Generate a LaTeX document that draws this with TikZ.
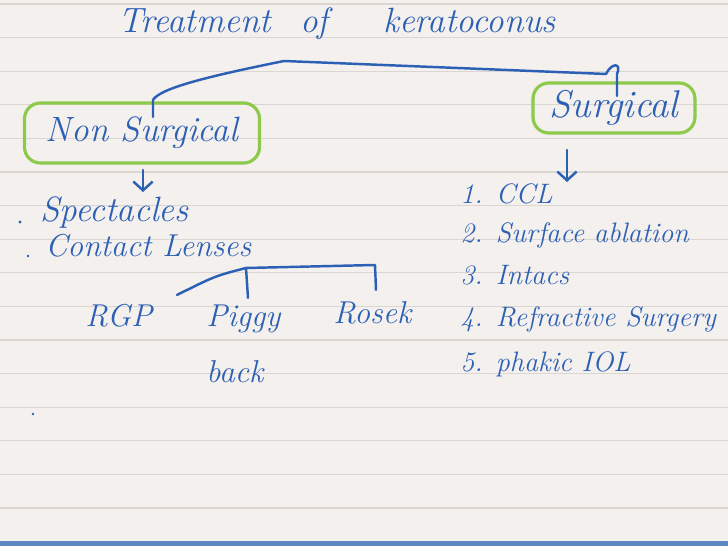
\documentclass[tikz,border=0pt]{standalone}
\usetikzlibrary{arrows.meta,positioning}
\definecolor{paper}{HTML}{F4F0EE}
\definecolor{ruling}{HTML}{DCD6D3}
\definecolor{pen}{HTML}{2C60B4}
\definecolor{marker}{HTML}{8DC94A}
\definecolor{slideblue}{HTML}{5B87C2}
\tikzset{>={Straight Barb[length=5pt,width=11pt]},
  hand/.style={text=pen,font=\fontsize{18}{20}\selectfont\itshape,inner sep=0pt},
  big hand/.style={hand,font=\fontsize{20}{22}\selectfont\itshape},
  list hand/.style={hand,font=\fontsize{16}{18}\selectfont\itshape,anchor=base west},
  wire/.style={draw=pen,line width=1.4pt,line cap=round,line join=round},
  greenbox/.style={draw=marker,line width=1.8pt,rounded corners=9pt}}

\begin{document}
\begin{tikzpicture}[x=0.02cm,y=0.02cm]

  \fill[paper] (0,0) rectangle (728,-546);
  \useasboundingbox (0,0) rectangle (728,-546);
  \foreach \k in {0,...,15}
    \draw[ruling,line width=0.7pt] (0,-4-33.6*\k) -- (728,-4-33.6*\k);
  \fill[slideblue] (0,-541) rectangle (728,-546);

  % title
  \node[big hand,anchor=base west] (ttlA) at (118,-33) {Treatment};
  \node[big hand,anchor=base west] (ttlB) at (300,-33) {of};
  \node[big hand,anchor=base west] (ttlC) at (383,-33) {keratoconus};

  % the two branches
  \node[big hand,greenbox,minimum width=4.7cm,minimum height=1.2cm] (ns) at (142,-133) {Non Surgical};
  \node[hand,greenbox,font=\fontsize{22}{24}\selectfont\itshape,
        minimum width=3.24cm,minimum height=1cm] (srg) at (614,-108) {Surgical};

  \coordinate (split) at (284,-61);
  \draw[wire] (split) .. controls (210,-76) and (160,-88) .. (153,-100) -- (153,-117);
  \draw[wire] (split) -- (606,-74) .. controls (612,-62) and (622,-63) .. (617,-74) -- (617,-96);

  \draw[wire,->] (143,-170) -- (143,-192);
  \draw[wire,->] (567,-150) -- (567,-182);

  % non surgical
  \fill[pen] (20,-222) circle (1.6);
  \node[big hand,anchor=base west] (spec) at (40,-222) {Spectacles};
  \fill[pen] (28,-256) circle (1.4);
  \node[hand,anchor=base west] (cl) at (45,-257) {Contact Lenses};

  \coordinate (clsplit) at (246,-268);
  \draw[wire] (clsplit) .. controls (215,-276) .. (177,-295);
  \draw[wire] (clsplit) -- (248,-298);
  \draw[wire] (clsplit) -- (375,-265) -- (376,-290);

  \node[hand,anchor=base west] (rgp) at (85,-327) {RGP};
  \node[hand,anchor=base west,align=left,font=\fontsize{18}{32}\selectfont\itshape] (piggy) at (206,-383) {Piggy\\back};
  \node[hand,anchor=base west] (rosek) at (333,-324) {Rosek};

  \fill[pen] (33,-414) circle (1.4);

  % surgical
  \node[list hand] (s1) at (460,-204) {1. CCL};
  \node[list hand] (s2) at (460,-243) {2. Surface ablation};
  \node[list hand] (s3) at (460,-285) {3. Intacs};
  \node[list hand] (s4) at (460,-327) {4. Refractive Surgery};
  \node[list hand] (s5) at (460,-372) {5. phakic IOL};

\end{tikzpicture}
\end{document}
